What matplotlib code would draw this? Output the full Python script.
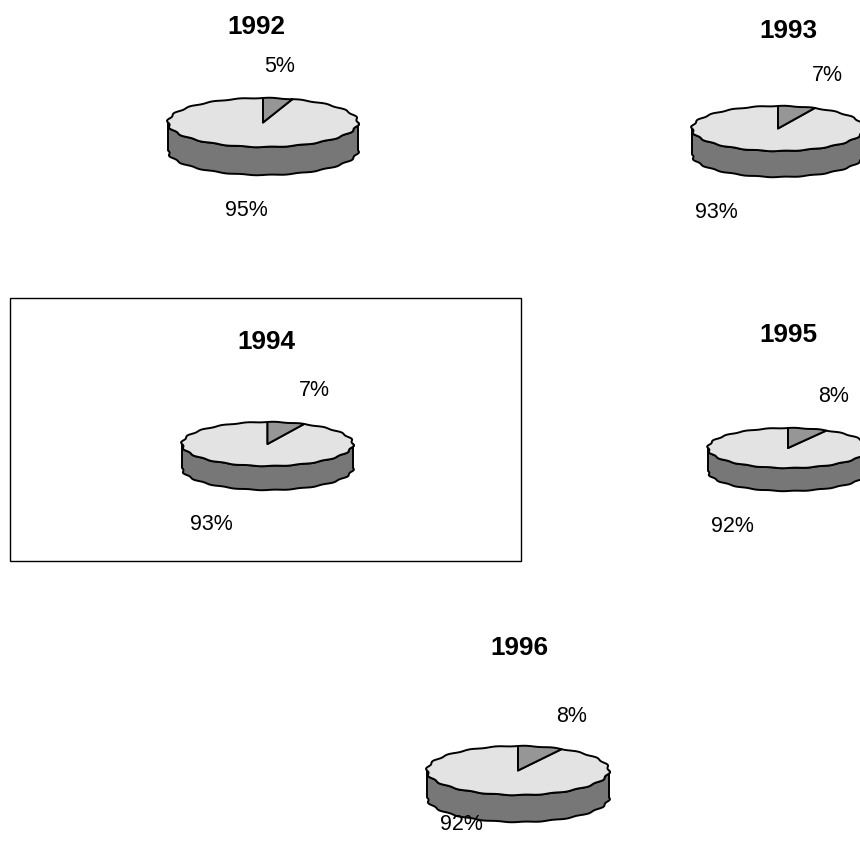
import numpy as np
import matplotlib
matplotlib.use("Agg")
import matplotlib.pyplot as plt
from matplotlib.patches import Polygon, Rectangle

plt.rcParams['font.family'] = ['Liberation Sans', 'DejaVu Sans']

years = ["1992", "1993", "1994", "1995", "1996"]
small_share = [5, 7, 7, 8, 8]
large_share = [95, 93, 93, 92, 92]

# pie layout in pixels: centre x, centre y, radius x, radius y, rim depth
centres_x = [263, 778, 267.5, 788, 518]
centres_y = [122.5, 128.5, 444, 448, 770.5]
radii_x = [95, 86, 85.5, 80, 91]
radii_y = [24.5, 22.5, 22, 20, 24.5]
depths = [28, 26, 24, 23, 27]

title_pos = [(256, 27.5), (788, 31), (266, 342), (788, 335), (519, 648)]
small_pos = [(279.5, 66.5), (827, 75.5), (314, 390), (834, 397), (572, 717)]
large_pos = [(246, 210), (716, 213), (211.5, 525), (732, 526), (461.5, 824)]

C_TOP = "#e3e3e3"
C_SLICE = "#969696"
C_SIDE = "#777777"


def rim(t, cx, cy, rx, ry):
    # slightly scalloped ellipse, t is clockwise from 12 o'clock
    k = 1 + 0.014 * np.sin(20 * t)
    return np.column_stack([cx + rx * k * np.sin(t), cy - ry * k * np.cos(t)])


def draw_pie(ax, cx, cy, rx, ry, depth, share):
    # side wall first, lower half of the rim dropped by depth
    t = np.linspace(np.pi / 2, 3 * np.pi / 2, 70)
    upper = rim(t, cx, cy, rx, ry)
    lower = rim(t[::-1], cx, cy, rx, ry) + [0, depth]
    ax.add_patch(Polygon(np.vstack([upper, lower]), fc=C_SIDE, ec="black", lw=1.4, joinstyle="round"))

    split = share / 100 * 2 * np.pi
    t_small = np.linspace(0, split, 12)
    t_large = np.linspace(split, 2 * np.pi, 140)
    for ts, col in [(t_large, C_TOP), (t_small, C_SLICE)]:
        pts = np.vstack([[cx, cy], rim(ts, cx, cy, rx, ry)])
        ax.add_patch(Polygon(pts, fc=col, ec="black", lw=1.4, joinstyle="round"))


fig = plt.figure(figsize=(8.6, 8.59), dpi=100)
ax = fig.add_axes([0, 0, 1, 1])
ax.set_xlim(0, 860)
ax.set_ylim(859, 0)
ax.axis("off")

ax.add_patch(Rectangle((10, 298), 511, 263, fc="none", ec="black", lw=1))

for i in range(len(years)):
    draw_pie(ax, centres_x[i], centres_y[i], radii_x[i], radii_y[i], depths[i], small_share[i])
    ax.text(*title_pos[i], years[i], fontsize=18.8, fontweight="bold", ha="center", va="center")
    ax.text(*small_pos[i], f"{small_share[i]}%", fontsize=15.5, ha="center", va="center")
    ax.text(*large_pos[i], f"{large_share[i]}%", fontsize=15.5, ha="center", va="center")

fig.savefig("out.png", dpi=100)
